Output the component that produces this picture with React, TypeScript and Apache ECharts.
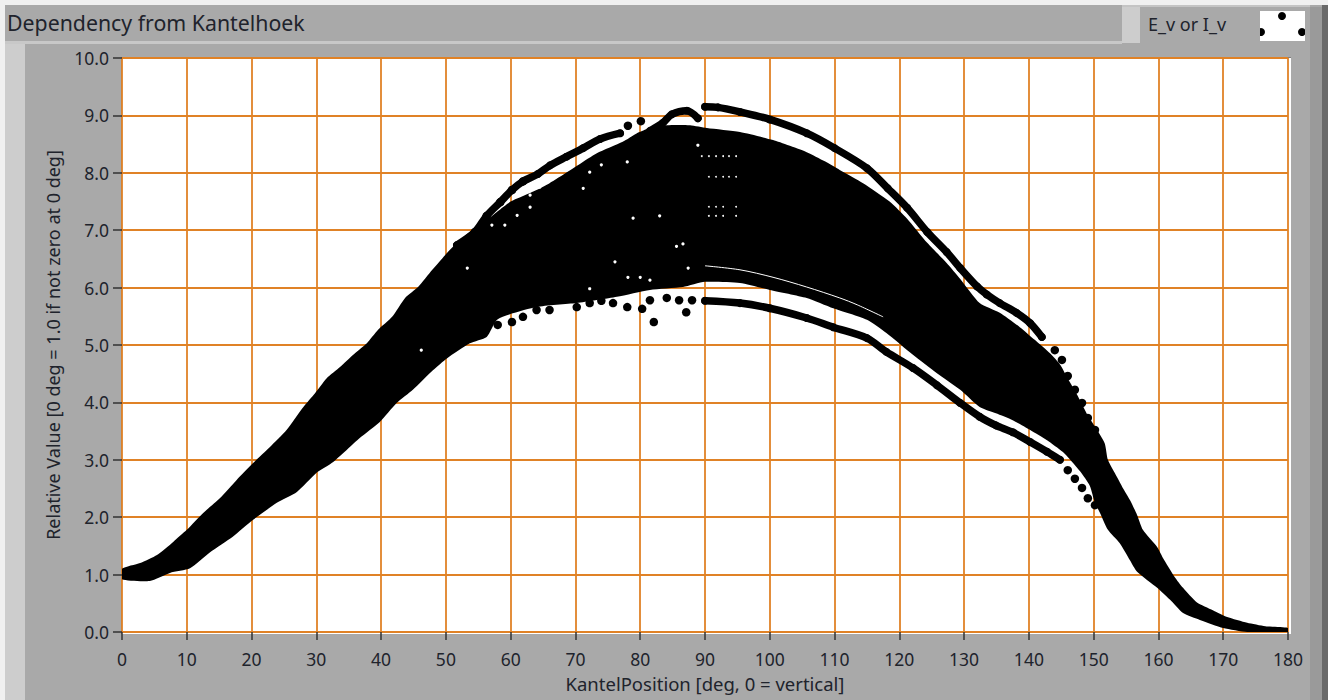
import React, { useEffect, useRef } from "react";
import * as echarts from "echarts";

const FONT = "'Noto Sans', sans-serif";
const TITLE = "Dependency from Kantelhoek";
const LEGEND_LABEL = "E_v or I_v";
const X_NAME = "KantelPosition [deg, 0 = vertical]";
const Y_NAME = "Relative Value [0 deg = 1.0 if not zero at 0 deg]";

// upper boundary of the solid cloud of points, left to right
const cloudTop: number[][] = [
  [0, 1.1], [2.8, 1.2], [5.4, 1.34], [7.9, 1.57], [10, 1.78], [12.5, 2.07], [15.1, 2.33], [17.7, 2.65], [20.2, 2.94],
  [22.8, 3.22], [25.4, 3.52], [28, 3.92], [29.8, 4.16], [31.6, 4.42], [33.7, 4.62], [35.7, 4.83], [37.8, 5.03],
  [39.5, 5.26], [41.7, 5.49], [43.7, 5.82], [45.7, 6.01], [47.9, 6.31], [49.9, 6.57], [51.7, 6.78], [53.7, 6.97],
  [56, 7.15], [58, 7.33], [60, 7.5], [62, 7.6], [64, 7.7], [66, 7.82], [67.6, 7.93], [70.5, 8.14], [73.3, 8.34],
  [77.3, 8.54], [79.5, 8.69], [81.5, 8.78], [84.1, 8.83], [87.7, 8.83], [90.3, 8.78], [95.4, 8.71], [100.5, 8.57],
  [105.7, 8.36], [108.5, 8.2], [110.8, 8.05], [114.4, 7.82], [118.5, 7.5], [121.2, 7.2], [124.3, 6.78], [127.3, 6.43],
  [129.4, 6.15], [132.4, 5.73], [135.5, 5.56], [138.6, 5.31], [140.9, 5.09], [143.3, 4.85], [144.8, 4.66], [145.9, 4.44],
  [147.4, 4.14], [149, 3.79], [150.2, 3.58], [151.7, 3.29], [152.2, 3.0], [153.6, 2.7], [154.5, 2.51], [155.6, 2.3],
  [156.7, 2.04], [157.6, 1.78], [159.8, 1.48], [160.7, 1.29], [162.5, 0.96], [163.8, 0.77], [165.9, 0.52], [168.4, 0.38],
  [170.6, 0.26], [173.7, 0.16], [176.5, 0.1], [180, 0.07],
];

// lower boundary of the solid cloud of points, left to right
const cloudBottom: number[][] = [
  [0, 0.92], [4.3, 0.89], [7.4, 1.03], [10.5, 1.11], [13.6, 1.39], [17.1, 1.66], [20.2, 1.95], [23.9, 2.25], [27, 2.44],
  [30, 2.77], [32.6, 2.96], [36.7, 3.38], [39.8, 3.66], [42.4, 3.99], [44.9, 4.22], [48, 4.56], [50.2, 4.77], [53.7, 5.03],
  [56.3, 5.14], [58, 5.45], [64, 5.66], [70.2, 5.73], [76.4, 5.84], [81.5, 5.96], [86.6, 6.01], [90, 6.1], [95.4, 6.08],
  [100, 5.96], [105.7, 5.82], [109.8, 5.64], [115, 5.44], [118, 5.21], [122.1, 4.83], [125.8, 4.51], [129.4, 4.22],
  [132.4, 3.92], [134.9, 3.81], [137.5, 3.69], [140.2, 3.52], [142.8, 3.34], [145.2, 3.14], [146, 3.05], [147.9, 2.8],
  [149.4, 2.55], [150.2, 2.25], [151, 2.07], [152.2, 1.78], [154, 1.55], [155.6, 1.25], [156.7, 1.05], [159.8, 0.77],
  [161.8, 0.56], [163.8, 0.33], [166.4, 0.21], [170, 0.07], [173.7, 0], [180, 0],
];

// highest run of points, left part
const upperLeftRun: number[][] = [
  [51.7, 6.74], [54.5, 6.97], [56.3, 7.25], [58.4, 7.49], [60.2, 7.7], [61.9, 7.85], [64.2, 7.98], [66.1, 8.13],
  [68.6, 8.28], [71.2, 8.43], [73.8, 8.59], [76.9, 8.69],
];

// highest run of points around the peak
const peakRun: number[][] = [[81.5, 8.73], [83.5, 8.87], [84.9, 9.02], [87.2, 9.08], [88.9, 8.95]];

// highest run of points, right part
const upperRightRun: number[][] = [
  [90, 9.15], [92, 9.14], [95.4, 9.06], [100, 8.93], [105.7, 8.69], [110, 8.43], [115, 8.08], [118.2, 7.73],
  [121.2, 7.39], [124.3, 6.97], [127.3, 6.62], [129.4, 6.34], [132, 6.02], [133.5, 5.88], [135.5, 5.73], [138.1, 5.56],
  [140.2, 5.38], [142, 5.14],
];

// lowest run of points, right part
const lowerRightRun: number[][] = [
  [90, 5.77], [95.4, 5.73], [100, 5.64], [105.7, 5.47], [109.8, 5.31], [115, 5.12], [118, 4.88], [122.1, 4.6],
  [125.8, 4.3], [129.4, 3.99], [132.4, 3.75], [134.9, 3.6], [137.5, 3.48], [140.2, 3.31], [142.8, 3.14], [144.8, 3.0],
];

// individually visible points
const loosePoints: number[][] = [
  [78.1, 8.82], [80.1, 8.9], [82.1, 5.4], [87.1, 5.57], [58, 5.35], [60.2, 5.4], [61.9, 5.49], [64, 5.61], [66, 5.61],
  [70.2, 5.66], [72.2, 5.73], [74, 5.77], [75.8, 5.73], [78, 5.66], [80.3, 5.63], [81.5, 5.78], [84.1, 5.82],
  [86, 5.78], [88, 5.78], [146, 2.82], [147.1, 2.67], [148.2, 2.51], [149.1, 2.33], [150.2, 2.21],
  [144, 4.91], [145.1, 4.74], [146, 4.46], [147.1, 4.22], [148.2, 3.99], [149.1, 3.73], [150.2, 3.52],
  [54.5, 6.97], [56.3, 7.25], [58.4, 7.49], [60.2, 7.7], [61.9, 7.85],
];

// thin white separation inside the cloud
const whiteSeam: number[][] = [
  [90, 6.38], [95.4, 6.31], [100.5, 6.18], [105.7, 6.01], [110.8, 5.82], [113.5, 5.7], [117.5, 5.49],
];

// tiny holes in the cloud
const holes: number[][] = [
  [89.5, 8.29], [90.6, 8.29], [91.7, 8.29], [92.8, 8.29], [93.7, 8.29], [94.8, 8.29],
  [90.6, 7.93], [91.7, 7.93], [92.8, 7.93], [93.7, 7.93], [94.8, 7.93],
  [90.6, 7.41], [91.7, 7.41], [92.8, 7.41], [94.8, 7.41],
  [90.6, 7.25], [91.7, 7.25], [92.8, 7.25], [94.8, 7.25],
];

// larger gaps in the cloud
const gaps: number[][] = [
  [86.6, 6.76], [85.6, 6.72], [53.3, 6.34], [46.2, 4.91], [71.2, 7.73], [78, 8.19], [78.9, 7.21], [83, 7.25], [88.9, 8.48],
  [72.2, 8.01], [74, 8.14], [63, 7.61], [64.5, 7.75], [57.1, 7.09], [59.1, 7.09], [61, 7.26], [63, 7.4],
  [76.1, 6.45], [78.1, 6.18], [80, 6.18], [81.5, 6.13], [87.4, 6.34], [72.2, 5.98],
];

const runSeries = (name: string, data: number[][]) => ({
  name,
  type: "line",
  data,
  smooth: 0.3,
  symbol: "circle",
  symbolSize: 8,
  showSymbol: true,
  silent: true,
  itemStyle: { color: "#000" },
  lineStyle: { color: "#000", width: 7.5, cap: "round", join: "round" },
  z: 4,
});

const rect = (x: number, y: number, width: number, height: number, fill: string, z = -10) => ({
  type: "rect",
  shape: { x, y, width, height },
  style: { fill },
  z,
  silent: true,
});

export default function App() {
  const ref = useRef<HTMLDivElement>(null);
  useEffect(() => {
    const chart = echarts.init(ref.current!, undefined, { renderer: "svg" });
    chart.setOption({
      animation: false,
      backgroundColor: "#f0f0f0",
      title: {
        text: TITLE,
        left: 7,
        top: 12,
        padding: 0,
        textStyle: { fontFamily: FONT, fontSize: 21.3, fontWeight: 400, color: "#20232c" },
      },
      grid: { left: 122, right: 40, top: 58, bottom: 68 },
      xAxis: {
        type: "value",
        min: 0,
        max: 180,
        interval: 10,
        offset: 4,
        name: X_NAME,
        nameLocation: "middle",
        nameGap: 38,
        nameTextStyle: { fontFamily: FONT, fontSize: 18.5, color: "#20232c" },
        axisLine: { show: false },
        axisTick: { show: true, length: 8, lineStyle: { color: "#333", width: 1.5 } },
        axisLabel: { fontFamily: FONT, fontSize: 17.5, color: "#20232c", margin: 14, hideOverlap: false, showMinLabel: true, showMaxLabel: true },
        splitLine: { show: true, lineStyle: { color: "#e08226", width: 1.8 } },
      },
      yAxis: {
        type: "value",
        min: 0,
        max: 10,
        interval: 1,
        name: Y_NAME,
        nameLocation: "middle",
        nameGap: 60,
        nameTextStyle: { fontFamily: FONT, fontSize: 18, color: "#20232c" },
        axisLine: { show: false },
        axisTick: { show: true, length: 9, lineStyle: { color: "#333", width: 1.5 } },
        axisLabel: { fontFamily: FONT, fontSize: 17.5, color: "#20232c", margin: 13, formatter: (v: number) => v.toFixed(1) },
        splitLine: { show: true, lineStyle: { color: "#e08226", width: 1.8 } },
      },
      graphic: {
        elements: [
          rect(5, 5, 1323, 695, "#a9a9a9", -20),
          rect(5, 44, 20, 656, "#cdcdcd"),
          rect(5, 41, 1117, 3, "#c8c8c8"),
          rect(1310, 44, 12, 656, "#9a9a9a"),
          rect(1310, 7, 12, 37, "#9a9a9a"),
          rect(1322, 5, 6, 695, "#6a6a6a"),
          rect(1122, 7, 18, 36, "#cdcdcd"),
          rect(1122, 5, 188, 2, "#c4c4c4"),
          rect(121, 57, 1170, 577, "#808080", -9),
          rect(122, 58, 1169, 576, "#ffffff", -8),
          rect(1258, 11, 47, 30, "#ffffff", 5),
          { type: "circle", shape: { cx: 1282, cy: 16, r: 4 }, style: { fill: "#000" }, z: 6, silent: true },
          { type: "circle", shape: { cx: 1261, cy: 32, r: 4 }, style: { fill: "#000" }, z: 6, silent: true },
          { type: "circle", shape: { cx: 1302, cy: 32, r: 4 }, style: { fill: "#000" }, z: 6, silent: true },
          rect(1252, 11, 8, 30, "#a9a9a9", 7),
          rect(1305, 11, 5, 30, "#a9a9a9", 7),
          {
            type: "text",
            x: 1148,
            y: 15,
            z: 6,
            silent: true,
            style: { text: LEGEND_LABEL, fontFamily: FONT, fontSize: 18, fill: "#20232c" },
          },
        ],
      },
      series: [
        {
          name: "cloud",
          type: "custom",
          silent: true,
          clip: true,
          z: 3,
          data: [0],
          renderItem: (_p: unknown, api: any) => ({
            type: "polygon",
            shape: { smooth: 0.2, points: [...cloudTop, ...[...cloudBottom].reverse()].map((p) => api.coord(p)) },
            style: { fill: "#000" },
          }),
        },
        runSeries("upper left", upperLeftRun),
        runSeries("peak", peakRun),
        runSeries("upper right", upperRightRun),
        runSeries("lower right", lowerRightRun),
        {
          name: "loose",
          type: "scatter",
          data: loosePoints,
          symbolSize: 8.5,
          silent: true,
          itemStyle: { color: "#000", opacity: 1 },
          z: 4,
        },
        {
          name: "seam",
          type: "line",
          data: whiteSeam,
          smooth: 0.3,
          showSymbol: false,
          silent: true,
          lineStyle: { color: "#fff", width: 1 },
          z: 5,
        },
        {
          name: "holes",
          type: "scatter",
          data: holes,
          symbolSize: 1.8,
          silent: true,
          itemStyle: { color: "#fff", opacity: 1 },
          z: 5,
        },
        {
          name: "gaps",
          type: "scatter",
          data: gaps,
          symbolSize: 3.2,
          silent: true,
          itemStyle: { color: "#fff", opacity: 1 },
          z: 5,
        },
      ],
    });
    return () => chart.dispose();
  }, []);
  return <div ref={ref} style={{ position: "fixed", left: 0, top: 0, width: 1328, height: 700 }} />;
}
